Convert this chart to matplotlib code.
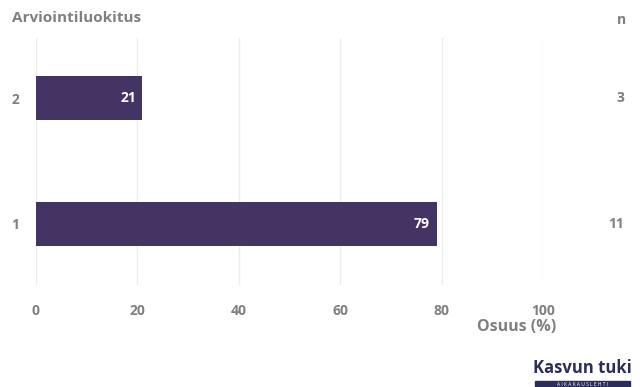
import matplotlib.pyplot as plt
from matplotlib.patches import Rectangle

# Arviointiluokitus data
luokat = ["1", "2"]
osuus = [79, 21]
n_arvot = ["11", "3"]
xtikit = [0, 20, 40, 60, 80, 100]

harmaa = "#7f7f7f"
violetti = "#433464"
plt.rcParams['font.family'] = ['Open Sans', 'DejaVu Sans']

fig = plt.figure(figsize=(6.4, 3.87), dpi=100)
ax = fig.add_axes([36/640, 1-285/387, (543-36)/640, (285-38)/387])

ypos = list(range(len(luokat)))
ax.barh(ypos, osuus, height=0.35, color=violetti, zorder=3)
for y, v in zip(ypos, osuus):
    ax.text(v - 1.3, y, str(v), ha="right", va="center", color="white",
            fontsize=10, fontweight="bold", zorder=4)

ax.set_xlim(0, 100)
ax.set_ylim(-0.49, 1.48)
ax.set_xticks(xtikit)
ax.set_xticklabels([str(t) for t in xtikit])
ax.set_yticks(ypos)
ax.set_yticklabels(luokat)
ax.tick_params(length=0, labelcolor=harmaa, labelsize=10)
ax.tick_params(axis="x", pad=14)
ax.tick_params(axis="y", pad=12)
for lab in ax.get_xticklabels() + ax.get_yticklabels():
    lab.set_fontweight("bold")
ax.grid(axis="x", color="#ececec", linewidth=1, zorder=0)
for s in ax.spines.values():
    s.set_visible(False)

# n-sarake oikealla
for y, n in zip(ypos, n_arvot):
    ax.text(1.16, y, n, transform=ax.get_yaxis_transform(), ha="right",
            va="center", color=harmaa, fontsize=10, fontweight="bold")

fig.text(12/640, 1-18/387, "Arviointiluokitus", ha="left", va="center",
         color=harmaa, fontsize=11, fontweight="bold")
fig.text(626/640, 1-20/387, "n", ha="right", va="center",
         color=harmaa, fontsize=10, fontweight="bold")
fig.text(556/640, 1-327/387, "Osuus (%)", ha="right", va="center",
         color=harmaa, fontsize=11.5, fontweight="bold")

# logo
fig.text(533/640, 1-368/387, "Kasvun tuki", ha="left", va="center",
         color="#2b2d5b", fontsize=12, fontweight="bold")
fig.add_artist(Rectangle((535/640, 1-387/387), 95/640, 6/387,
                         transform=fig.transFigure, color="#2b2d5b"))
fig.text(582.5/640, 1-384/387, "A I K A K A U S L E H T I", ha="center",
         va="center", color="white", fontsize=3.5)

fig.savefig("out.png", dpi=100)
